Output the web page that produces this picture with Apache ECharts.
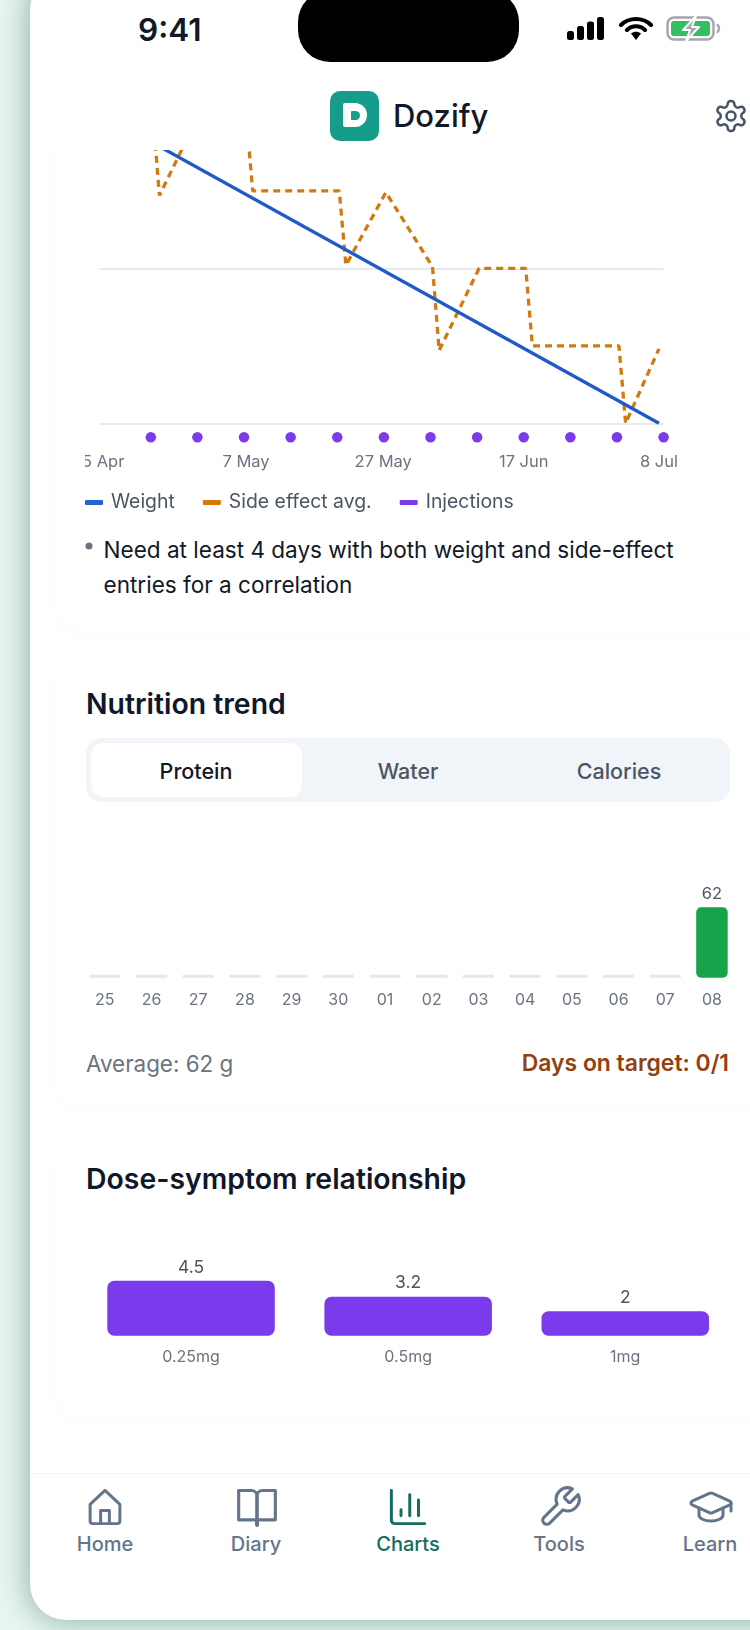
<!DOCTYPE html>
<html>
<head>
<meta charset="utf-8">
<title>Dozify charts</title>
<script src="https://cdn.jsdelivr.net/npm/echarts@6/dist/echarts.min.js"></script>
<style>
    html, body { margin: 0; padding: 0; width: 750px; height: 1630px; overflow: hidden; background: #e8f5f2; font-family: Inter, "Noto Sans", sans-serif; color: #111827; }
    .abs { position: absolute; white-space: nowrap; }
    #phone { left: 30px; top: -26px; width: 780px; height: 1646px; background: #fff; border-radius: 36px; box-shadow: 0 0 28px 3px rgba(90, 140, 125, .58); }
    .card { left: 57px; width: 720px; border-radius: 22px; background: #fff; box-shadow: 0 2px 14px rgba(15, 23, 42, .018); }
    .h2 { left: 86px; font-size: 28.4px; font-weight: 600; transform: translateY(-50%); color: #0f172a; }
    .tab { transform: translate(-50%, -50%); font-size: 21.5px; font-weight: 500; color: #4b5563; }
    .nav { transform: translate(-50%, -50%); font-size: 20px; font-weight: 500; color: #64748b; }
    svg { position: absolute; fill: none; stroke-linecap: round; stroke-linejoin: round; }
</style>
</head>
<body>
<div class="abs" id="phone"></div>

<div class="abs card" style="top:-40px;height:670px"></div>
<div class="abs card" style="top:657px;height:450px"></div>
<div class="abs card" style="top:1143px;height:274px"></div>

<div class="abs" id="chart1" style="left:85px;top:150px;width:600px;height:370px"></div>

<div class="abs" style="left:89px;top:545.5px;width:7px;height:7px;border-radius:50%;background:#6b7280;transform:translate(-50%,-50%)"></div>
<div class="abs" style="left:103.5px;top:549px;font-size:22.55px;transform:translateY(-50%)">Need at least 4 days with both weight and side-effect</div>
<div class="abs" style="left:103.5px;top:584px;font-size:22.55px;transform:translateY(-50%)">entries for a correlation</div>

<div class="abs h2" style="top:703px">Nutrition trend</div>
<div class="abs" style="left:86px;top:738px;width:644px;height:64px;border-radius:15px;background:#f1f5f9"></div>
<div class="abs" style="left:91px;top:743px;width:211px;height:54px;border-radius:12px;background:#fff"></div>
<div class="abs tab" style="left:196px;top:771px;color:#111827">Protein</div>
<div class="abs tab" style="left:408px;top:771px">Water</div>
<div class="abs tab" style="left:619px;top:771px">Calories</div>
<div class="abs" id="chart2" style="left:70px;top:840px;width:680px;height:180px"></div>
<div class="abs" style="left:86px;top:1062.500px;font-size:22.4px;color:#6b7280;transform:translateY(-50%)">Average: 62 g</div>
<div class="abs" style="right:21px;top:1062.500px;font-size:22.9px;font-weight:600;color:#92400e;transform:translateY(-50%)">Days on target: 0/1</div>

<div class="abs h2" style="top:1178px">Dose-symptom relationship</div>
<div class="abs" id="chart3" style="left:70px;top:1250px;width:680px;height:130px"></div>

<!-- header over the scrolled chart -->
<div class="abs" style="left:36px;top:0;width:714px;height:150px;background:#fff"></div>
<div class="abs" style="left:138px;top:29px;font-size:31.5px;font-weight:600;transform:translateY(-50%)">9:41</div>
<div class="abs" style="left:298px;top:-10px;width:221px;height:72px;border-radius:32px;background:#000"></div>
<svg style="left:566px;top:16px" width="40" height="25" viewBox="0 0 40 25">
    <rect x="1" y="15" width="7" height="9" rx="2.500" fill="#000"/><rect x="11" y="10" width="7" height="14" rx="2.500" fill="#000"/>
    <rect x="21" y="5.500" width="7" height="18.500" rx="2.500" fill="#000"/><rect x="31" y="1" width="7" height="23" rx="2.500" fill="#000"/>
</svg>
<svg style="left:619px;top:17px" width="34" height="24" viewBox="0 0 34 24">
    <path d="M2 8 C10 0 24 0 32 8 M8 13 C13 8 21 8 26 13" stroke="#000" stroke-width="4"/><path d="M12 16.500 L17 23 L22 16.500 C19 14 15 14 12 16.500z" fill="#000"/>
</svg>
<svg style="left:666px;top:16px" width="55" height="25" viewBox="0 0 55 25">
    <rect x="1.500" y="1.500" width="46" height="22" rx="6.500" stroke="#a3a8ac" stroke-width="2.500" fill="#fff"/>
    <rect x="5" y="5" width="39" height="15" rx="3" fill="#34c060"/>
    <path d="M51.500 9 c2 1 2 6 0 7" stroke="#a3a8ac" stroke-width="2.500"/>
    <path d="M30 0 L17 14 H24 L20 25 L33 11 H26z" fill="#a3a8ac" stroke="#fff" stroke-width="2"/>
</svg>
<div class="abs" style="left:330px;top:91px;width:49px;height:50px;border-radius:10px;background:#169c8a"></div>
<div class="abs" style="left:343px;top:103px;width:24px;height:24px;border-radius:2px 12px 12px 2px;background:#fff"></div>
<div class="abs" style="left:351px;top:111px;width:9px;height:9px;border-radius:1px 5px 5px 1px;background:#169c8a"></div>
<div class="abs" style="left:393px;top:115px;font-size:31px;font-weight:500;transform:translateY(-50%)">Dozify</div>
<svg style="left:713px;top:97px" width="36" height="38" viewBox="0 0 24 24" stroke="#475569" stroke-width="1.700">
    <path d="M12.220 2h-.44a2 2 0 0 0-2 2v.18a2 2 0 0 1-1 1.730l-.43.25a2 2 0 0 1-2 0l-.15-.08a2 2 0 0 0-2.730.73l-.22.38a2 2 0 0 0 .73 2.730l.15.1a2 2 0 0 1 1 1.720v.51a2 2 0 0 1-1 1.740l-.15.09a2 2 0 0 0-.73 2.730l.22.38a2 2 0 0 0 2.730.73l.15-.08a2 2 0 0 1 2 0l.43.25a2 2 0 0 1 1 1.730V20a2 2 0 0 0 2 2h.44a2 2 0 0 0 2-2v-.18a2 2 0 0 1 1-1.730l.43-.25a2 2 0 0 1 2 0l.15.08a2 2 0 0 0 2.730-.73l.22-.39a2 2 0 0 0-.73-2.730l-.15-.08a2 2 0 0 1-1-1.740v-.5a2 2 0 0 1 1-1.740l.15-.09a2 2 0 0 0 .73-2.730l-.22-.38a2 2 0 0 0-2.730-.73l-.15.08a2 2 0 0 1-2 0l-.43-.25a2 2 0 0 1-1-1.730V4a2 2 0 0 0-2-2z"/>
    <circle cx="12" cy="12" r="3"/>
</svg>

<!-- tab bar -->
<div class="abs" style="left:30px;top:1473px;width:720px;height:1px;background:#f3f4f6"></div>
<svg style="left:84px;top:1485px" width="42" height="44" viewBox="0 0 24 24" stroke="#64748b" stroke-width="1.700">
    <path d="M3.500 10.500 12 2.500l8.500 8V20a1.500 1.500 0 0 1-1.500 1.500H5A1.500 1.500 0 0 1 3.500 20z"/><path d="M9.500 21.500V14h5v7.500"/>
</svg>
<svg style="left:235px;top:1485px" width="44" height="44" viewBox="0 0 24 24" stroke="#64748b" stroke-width="1.700">
    <path d="M2 3h7a3 3 0 0 1 3 3v16a2 2 0 0 0-2-3H2z"/><path d="M22 3h-7a3 3 0 0 0-3 3v16a2 2 0 0 1 2-3h8z"/>
</svg>
<svg style="left:387px;top:1485px" width="42" height="44" viewBox="0 0 24 24" stroke="#146c5e" stroke-width="1.700">
    <path d="M2.500 2.500v17a2 2 0 0 0 2 2h17"/><path d="M8 17v-3.500"/><path d="M13 17V5"/><path d="M18 17V8"/>
</svg>
<svg style="left:537px;top:1484px" width="46" height="46" viewBox="0 0 24 24" stroke="#64748b" stroke-width="1.600">
    <path d="M14.700 6.300a1 1 0 0 0 0 1.400l1.600 1.600a1 1 0 0 0 1.400 0l3.770-3.770a6 6 0 0 1-7.940 7.940l-6.910 6.910a2.120 2.120 0 0 1-3-3l6.910-6.910a6 6 0 0 1 7.940-7.940l-3.760 3.760z"/>
</svg>
<svg style="left:687px;top:1483px" width="48" height="48" viewBox="0 0 24 24" stroke="#64748b" stroke-width="1.500">
    <path d="M21.420 10.922a1 1 0 0 0-.019-1.838L12.830 5.180a2 2 0 0 0-1.660 0L2.600 9.080a1 1 0 0 0 0 1.832l8.570 3.908a2 2 0 0 0 1.660 0z"/><path d="M22 10v4"/><path d="M6 12.500V16a6 3 0 0 0 12 0v-3.500"/>
</svg>
<div class="abs nav" style="left:105px;top:1544px">Home</div>
<div class="abs nav" style="left:256px;top:1544px">Diary</div>
<div class="abs nav" style="left:408px;top:1544px;color:#146c5e">Charts</div>
<div class="abs nav" style="left:559px;top:1544px">Tools</div>
<div class="abs nav" style="left:710px;top:1544px">Learn</div>

<script>
// weight + side effects, x is days since 15 Apr, y is relative (0-2)
var weightDays = [0, 84];
var weightValues = [2, 0];
var sideEffectDays = [0, 8, 9, 15, 22, 23, 36, 37, 43, 50, 51, 57, 64, 65, 78, 79, 84];
var sideEffectValues = [2, 2, 1.47, 2, 2, 1.5, 1.5, 1.02, 1.49, 1.01, 0.47, 1, 1, 0.5, 0.5, 0, 0.48];
var injectionDays = [7.7, 14.7, 21.7, 28.7, 35.7, 42.7, 49.7, 56.7, 63.7, 70.7, 77.7, 84.7];
var injectionLevel = -0.09;
var tickDays = [0.05, 22, 42.6, 63.7, 84];
var tickLabels = ['15 Apr', '7 May', '27 May', '17 Jun', '8 Jul'];

// nutrition
var nutritionDays = ['25', '26', '27', '28', '29', '30', '01', '02', '03', '04', '05', '06', '07', '08'];
var proteinValues = [0, 0, 0, 0, 0, 0, 0, 0, 0, 0, 0, 0, 0, 62];

// dose vs symptom
var doseNames = ['0.25mg', '0.5mg', '1mg'];
var doseSymptoms = [4.5, 3.2, 2];

var FONT = 'Inter';

function zip(xs, ys) {
    return xs.map(function (x, i) {
        return [x, ys[i]];
    });
}

var chart1 = echarts.init(document.getElementById('chart1'));
chart1.setOption({
    animation: false,
    legend: {
        left: 0,
        top: 343,
        padding: 0,
        icon: 'roundRect',
        itemWidth: 18,
        itemHeight: 5,
        itemGap: 28,
        data: ['Weight', 'Side effect avg.', 'Injections'],
        textStyle: { fontFamily: FONT, fontSize: 19.4, color: '#4b5563', padding: [0, 0, 0, 3] }
    },
    // top of the plot is scrolled under the header
    grid: { left: 14.5, top: -36.7, width: 564.1, height: 310, outerBoundsMode: 'none' },
    xAxis: {
        type: 'value',
        min: 0,
        max: 84.7,
        axisLine: { show: false },
        axisTick: { show: false },
        splitLine: { show: false },
        axisLabel: {
            customValues: tickDays,
            margin: 30,
            fontFamily: FONT,
            fontSize: 16.5,
            color: '#6b7280',
            formatter: function (value) {
                return tickLabels[tickDays.indexOf(value)];
            }
        }
    },
    yAxis: {
        type: 'value',
        min: 0,
        max: 2,
        interval: 1,
        axisLabel: { show: false },
        axisLine: { show: false },
        axisTick: { show: false },
        splitLine: { lineStyle: { color: '#e8eaee', width: 2 } }
    },
    series: [
        {
            name: 'Side effect avg.',
            type: 'line',
            data: zip(sideEffectDays, sideEffectValues),
            showSymbol: false,
            itemStyle: { color: '#d97706' },
            lineStyle: { color: '#d07a10', width: 3.3, type: [7, 5] }
        },
        {
            name: 'Weight',
            type: 'line',
            data: zip(weightDays, weightValues),
            showSymbol: false,
            itemStyle: { color: '#2563d0' },
            lineStyle: { color: '#2059c8', width: 3.3 }
        },
        {
            name: 'Injections',
            type: 'scatter',
            clip: false,
            symbolSize: 10.5,
            itemStyle: { color: '#7c3aed', opacity: 1 },
            data: injectionDays.map(function (d) {
                return [d, injectionLevel];
            })
        }
    ]
});

var chart2 = echarts.init(document.getElementById('chart2'));
chart2.setOption({
    animation: false,
    grid: { left: 11.5, top: 24.2, width: 653.8, height: 113.5, outerBoundsMode: 'none' },
    xAxis: {
        type: 'category',
        data: nutritionDays,
        axisLine: { show: false },
        axisTick: { show: false },
        axisLabel: { interval: 0, margin: 14, fontFamily: FONT, fontSize: 16, color: '#6b7280' }
    },
    yAxis: { type: 'value', min: 0, max: 100, show: false },
    series: [{
        type: 'bar',
        data: proteinValues,
        barWidth: 31.5,
        barMinHeight: 3,
        itemStyle: {
            borderRadius: 5,
            color: function (p) {
                return p.value > 0 ? '#16a34a' : '#e5e7eb';
            }
        },
        label: {
            show: true,
            position: 'top',
            distance: 5,
            fontFamily: FONT,
            fontSize: 16.5,
            color: '#4b5563',
            formatter: function (p) {
                return p.value > 0 ? p.value : '';
            }
        }
    }]
});

var chart3 = echarts.init(document.getElementById('chart3'));
chart3.setOption({
    animation: false,
    grid: { left: 12.5, top: 24.7, width: 651.3, height: 61, outerBoundsMode: 'none' },
    xAxis: {
        type: 'category',
        data: doseNames,
        axisLine: { show: false },
        axisTick: { show: false },
        axisLabel: { margin: 13, fontFamily: FONT, fontSize: 16, color: '#6b7280' }
    },
    yAxis: { type: 'value', min: 0, max: 5, show: false },
    series: [{
        type: 'bar',
        data: doseSymptoms,
        barWidth: 167.5,
        itemStyle: { color: '#7c3aed', borderRadius: 7 },
        label: { show: true, position: 'top', distance: 4.5, fontFamily: FONT, fontSize: 17.5, color: '#4b5563' }
    }]
});
</script>
</body>
</html>
